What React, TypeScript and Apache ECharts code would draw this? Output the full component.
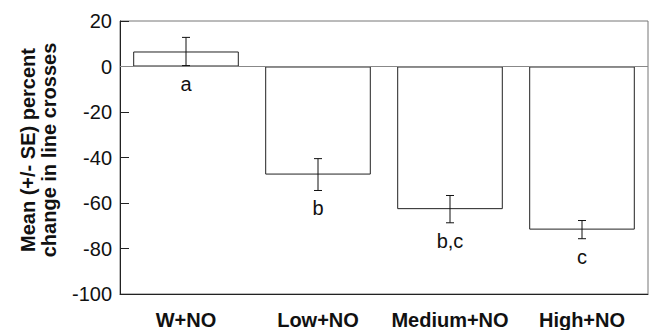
import React, { useEffect, useRef } from "react";
import * as echarts from "echarts";

const categories = ["W+NO", "Low+NO", "Medium+NO", "High+NO"];
const means = [6.6, -47.5, -62.7, -71.7];
const se = [6.2, 7.0, 6.0, 4.0];
const letters = ["a", "b", "b,c", "c"];
const yTicks = { min: -100, max: 20, interval: 20 };
const yTitle = "Mean (+/- SE) percent\nchange in line crosses";

export default function App() {
  const ref = useRef<HTMLDivElement>(null);
  useEffect(() => {
    if (!ref.current) return;
    const chart = echarts.init(ref.current, null, { renderer: "svg" });
    const font = "'Liberation Sans', Arial, Helvetica, sans-serif";
    const errData = categories.map((_, i) => [i, means[i] - se[i], means[i] + se[i]]);
    chart.setOption({
      animation: false,
      textStyle: { fontFamily: font },
      grid: { left: 120, right: 1, top: 21, bottom: 34, show: true, borderColor: "#777", borderWidth: 1 },
      xAxis: {
        type: "category",
        data: categories,
        boundaryGap: true,
        axisLine: { onZero: false, lineStyle: { color: "#222", width: 1 } },
        axisTick: { inside: true, length: 9, interval: 0, lineStyle: { color: "#222" } },
        axisLabel: { interval: 0, color: "#111", fontSize: 20, fontWeight: "bold", margin: 16, fontFamily: font },
        splitLine: { show: false },
      },
      yAxis: {
        type: "value",
        min: yTicks.min,
        max: yTicks.max,
        interval: yTicks.interval,
        axisLine: { show: true, lineStyle: { color: "#222", width: 1 } },
        axisTick: { show: true, inside: true, length: 9, lineStyle: { color: "#222" } },
        axisLabel: { color: "#111", fontSize: 20, margin: 8, fontFamily: font },
        splitLine: { show: false },
      },
      graphic: [
        {
          type: "text",
          x: 38,
          y: 150,
          rotation: Math.PI / 2,
          style: {
            text: yTitle,
            fontSize: 20,
            fontWeight: "bold",
            fontFamily: font,
            fill: "#111",
            align: "center",
            verticalAlign: "middle",
            lineHeight: 21,
          },
        },
      ],
      series: [
        {
          type: "bar",
          data: means,
          barCategoryGap: "20%",
          itemStyle: { color: "#fff", borderColor: "#222", borderWidth: 1 },
          markLine: {
            silent: true,
            symbol: "none",
            label: { show: false },
            lineStyle: { color: "#888", type: "solid", width: 1 },
            data: [{ yAxis: 0 }],
          },
          z: 2,
        },
        {
          type: "custom",
          data: errData,
          z: 5,
          renderItem: (params: any, api: any) => {
            const x = api.value(0);
            const lo = api.coord([x, api.value(1)]);
            const hi = api.coord([x, api.value(2)]);
            const cap = 4;
            const style = { stroke: "#111", lineWidth: 1 };
            return {
              type: "group",
              children: [
                { type: "line", shape: { x1: lo[0], y1: lo[1], x2: hi[0], y2: hi[1] }, style },
                { type: "line", shape: { x1: lo[0] - cap, y1: lo[1], x2: lo[0] + cap, y2: lo[1] }, style },
                { type: "line", shape: { x1: hi[0] - cap, y1: hi[1], x2: hi[0] + cap, y2: hi[1] }, style },
                {
                  type: "text",
                  x: lo[0],
                  y: lo[1] + 18,
                  style: {
                    text: letters[params.dataIndex],
                    fontSize: 20,
                    fontFamily: font,
                    fill: "#111",
                    align: "center",
                    verticalAlign: "middle",
                  },
                },
              ],
            };
          },
        },
      ],
    });
    return () => chart.dispose();
  }, []);
  return <div ref={ref} style={{ width: 649, height: 330, position: "fixed", left: 0, top: 0, background: "#fff" }} />;
}
